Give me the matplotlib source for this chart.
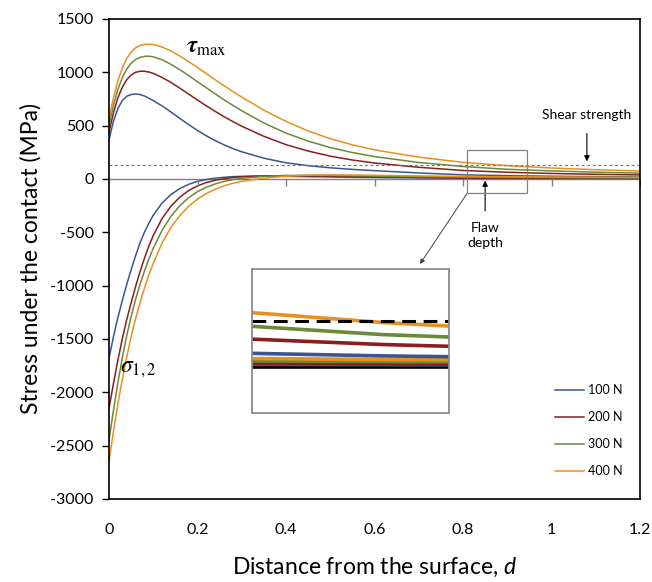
import matplotlib
matplotlib.use("Agg")
import matplotlib.pyplot as plt
from matplotlib.patches import Rectangle

plt.rcParams["font.family"] = ["Lato", "DejaVu Sans"]
plt.rcParams["mathtext.fontset"] = "custom"
plt.rcParams["mathtext.it"] = "Lato:italic"
plt.rcParams["mathtext.rm"] = "Lato"
plt.rcParams["axes.unicode_minus"] = False

# ---------------------------------------
# Data
# ---------------------------------------
d = [0, 0.01, 0.02, 0.03, 0.04, 0.05, 0.06, 0.07, 0.08, 0.09, 0.1, 0.12,
     0.14, 0.16, 0.18, 0.2, 0.22, 0.24, 0.26, 0.28, 0.3, 0.35, 0.4, 0.45,
     0.5, 0.55, 0.6, 0.7, 0.8, 0.9, 1.0, 1.1, 1.2]

loads = ["100 N", "200 N", "300 N", "400 N"]
colors = ["#3A5590", "#8C1D1D", "#6A8A3A", "#E8901E"]

tau_100 = [370, 540, 660, 735, 775, 792, 797, 792, 778, 758, 735, 685,
           628, 568, 510, 455, 405, 360, 320, 285, 255, 195, 152, 125,
           105, 90, 78, 57, 39, 31, 26, 22, 19]
tau_200 = [440, 620, 760, 860, 930, 975, 1000, 1010, 1010, 1003, 990, 952,
           905, 852, 796, 740, 686, 634, 584, 538, 495, 400, 322, 262,
           214, 178, 150, 110, 80, 63, 52, 44, 38]
tau_300 = [500, 690, 840, 950, 1030, 1085, 1120, 1140, 1150, 1151, 1146, 1118,
           1075, 1025, 970, 912, 855, 798, 742, 690, 640, 525, 430, 355,
           295, 248, 210, 155, 117, 91, 76, 64, 55]
tau_400 = [560, 760, 920, 1040, 1130, 1190, 1230, 1252, 1262, 1264, 1260, 1237,
           1200, 1153, 1100, 1045, 988, 930, 874, 820, 768, 645, 540, 450,
           378, 320, 273, 205, 156, 125, 103, 87, 75]

sig_100 = [-1680, -1480, -1300, -1140, -990, -850, -720, -600, -500, -415, -340, -225,
           -145, -90, -50, -22, -5, 8, 16, 22, 25, 27, 25, 22,
           19, 16, 14, 10, 7, 6, 5, 4, 4]
sig_200 = [-2150, -1920, -1700, -1500, -1320, -1160, -1010, -870, -745, -630, -530, -370,
           -255, -170, -108, -64, -33, -12, 3, 14, 21, 30, 31, 29,
           26, 23, 20, 15, 11, 9, 8, 7, 6]
sig_300 = [-2450, -2170, -1910, -1680, -1470, -1290, -1130, -990, -865, -750, -650, -480,
           -350, -250, -175, -118, -77, -46, -23, -6, 6, 25, 33, 35,
           33, 30, 27, 21, 17, 15, 13, 11, 10]
sig_400 = [-2650, -2370, -2110, -1880, -1670, -1480, -1310, -1160, -1025, -900, -790, -600,
           -455, -343, -255, -188, -136, -96, -64, -40, -22, 8, 26, 35,
           38, 37, 35, 29, 24, 21, 19, 17, 15]

tau = [tau_100, tau_200, tau_300, tau_400]
sig = [sig_100, sig_200, sig_300, sig_400]

shear_strength = 130
x_ticks = [0, 0.2, 0.4, 0.6, 0.8, 1, 1.2]
x_ticklabels = ["0", "0.2", "0.4", "0.6", "0.8", "1", "1.2"]
y_ticks = [1500, 1000, 500, 0, -500, -1000, -1500, -2000, -2500, -3000]

# zoom window (flaw depth region)
zoom_x = (0.81, 0.945)
zoom_y = (-130, 276)

# ---------------------------------------
# Plot
# ---------------------------------------
W, H = 652, 582
fig = plt.figure(figsize=(W / 100, H / 100), dpi=100)
ax = fig.add_axes([109 / W, 1 - 499 / H, (640 - 109) / W, (499 - 19) / H])

for t, s, c, lab in zip(tau, sig, colors, loads):
    ax.plot(d, t, color=c, lw=1.1, label=lab)
    ax.plot(d, s, color=c, lw=1.1)

ax.axhline(0, color="#808080", lw=1.0, zorder=1)
ax.plot(x_ticks[1:], [0] * (len(x_ticks) - 1), ls="none", marker=3,
        markersize=5, color="#808080", markeredgewidth=1.0)
ax.axhline(shear_strength, color="#707070", lw=0.8, ls=(0, (2.5, 2.5)))

ax.set_xlim(0, 1.2)
ax.set_ylim(-3000, 1500)
ax.set_xticks(x_ticks)
ax.set_xticklabels(x_ticklabels)
ax.set_yticks(y_ticks)
ax.tick_params(axis="x", length=0, labelsize=11.5, pad=17)
ax.tick_params(axis="y", direction="out", length=5, width=1, labelsize=11.5, pad=6)
for sp in ax.spines.values():
    sp.set_linewidth(1.2)

ax.set_xlabel("Distance from the surface, $\\mathit{d}$", fontsize=16.5, labelpad=14)
ax.set_ylabel("Stress under the contact (MPa)", fontsize=16.5, labelpad=6)

ax.text(0.22, 1237, r"$\boldsymbol{\tau}_{\rm max}$", fontsize=17,
        ha="center", va="center", math_fontfamily="stix")
ax.text(0.025, -1790, r"$\sigma_{1,2}$", fontsize=17,
        ha="left", va="center", math_fontfamily="stix")

ax.annotate("Shear strength", xy=(1.08, 165), xytext=(1.08, 600),
            ha="center", va="center", fontsize=10,
            arrowprops=dict(arrowstyle="-|>", color="black", lw=0.8,
                            mutation_scale=8, shrinkA=7, shrinkB=0))
ax.annotate("", xy=(0.85, -15), xytext=(0.85, -300),
            arrowprops=dict(arrowstyle="-|>", color="black", lw=0.8,
                            mutation_scale=8, shrinkA=0, shrinkB=0))
ax.text(0.85, -530, "Flaw\ndepth", ha="center", va="center", fontsize=10,
        linespacing=1.3)

ax.add_patch(Rectangle((zoom_x[0], zoom_y[0]), zoom_x[1] - zoom_x[0],
                       zoom_y[1] - zoom_y[0], fill=False, ec="#808080", lw=0.9,
                       zorder=5))
ax.annotate("", xy=(420 / W, 1 - 264 / H), xycoords="figure fraction",
            xytext=(zoom_x[0], zoom_y[0]), textcoords="data",
            arrowprops=dict(arrowstyle="-|>", color="#404040", lw=0.7,
                            mutation_scale=7, shrinkA=0, shrinkB=0))

leg = ax.legend(loc="upper left", bbox_to_anchor=(555 / W, 1 - 384 / H),
                bbox_transform=fig.transFigure, frameon=False, fontsize=9,
                handlelength=2.3, handletextpad=0.3, labelspacing=1.2,
                borderpad=0, borderaxespad=0)

# ---------------------------------------
# Inset (zoom of the flaw depth region)
# ---------------------------------------
axi = fig.add_axes([252 / W, 1 - 413 / H, (449 - 252) / W, (413 - 269) / H])
axi.axhline(0, color="black", lw=2.6)
for t, s, c in zip(tau, sig, colors):
    axi.plot(d, s, color=c, lw=2.6)
for t, s, c in zip(tau, sig, colors):
    axi.plot(d, t, color=c, lw=2.6)
axi.axhline(shear_strength, color="black", lw=2.2, ls=(0, (4.5, 2.5)))
axi.set_xlim(*zoom_x)
axi.set_ylim(*zoom_y)
axi.set_xticks([])
axi.set_yticks([])
for sp in axi.spines.values():
    sp.set_color("#8c8c8c")
    sp.set_linewidth(1.3)

fig.savefig("out.png", dpi=100)
